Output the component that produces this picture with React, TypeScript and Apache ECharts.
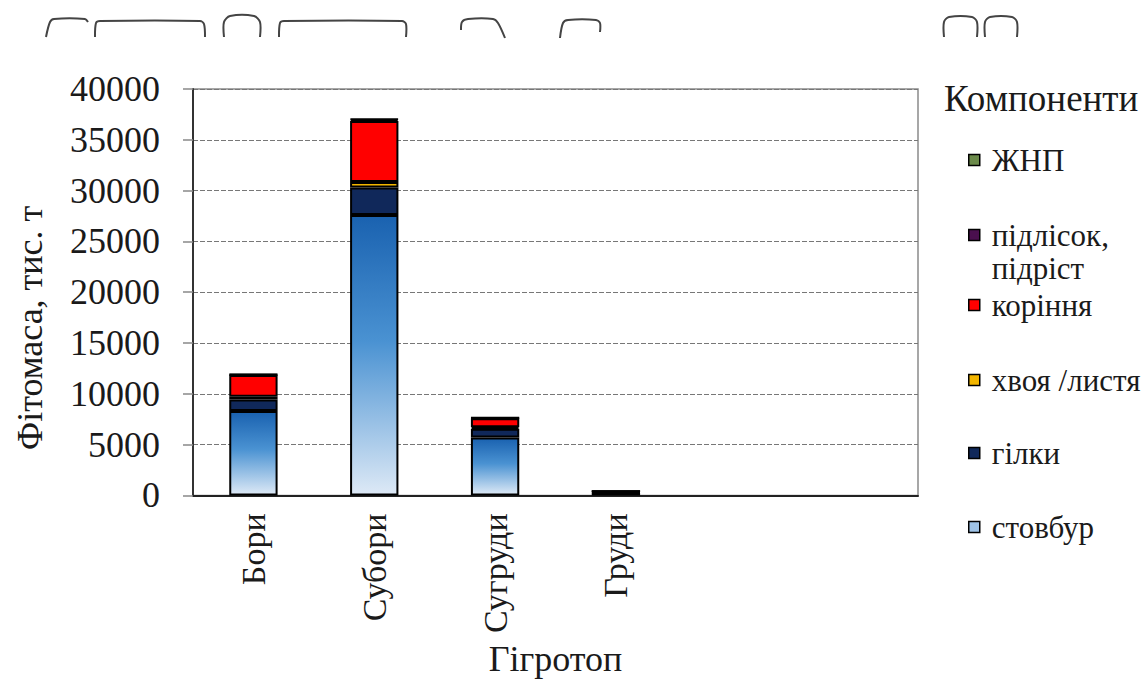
import React, { useEffect, useRef } from 'react';
import * as echarts from 'echarts';

const categories = ['Бори', 'Субори', 'Сугруди', 'Груди', '', ''];
const stovbur = [8300, 27600, 5700, 250, null, null];
const hilky = [1150, 2700, 850, 60, null, null];
const khvoya = [250, 550, 150, 20, null, null];
const korinnia = [2150, 6000, 900, 80, null, null];
const pidlisok = [50, 150, 30, 5, null, null];
const zhnp = [20, 60, 10, 2, null, null];
const yTicks = [0, 5000, 10000, 15000, 20000, 25000, 30000, 35000, 40000];

const FONT = 'Liberation Serif';
const TXT = '#1a1a1a';

const seriesDefs = [
  { name: 'стовбур', data: stovbur, legendColor: '#9fc3e7' },
  { name: 'гілки', data: hilky, legendColor: '#10285a' },
  { name: 'хвоя /листя', data: khvoya, legendColor: '#f3b600' },
  { name: 'коріння', data: korinnia, legendColor: '#ff0000' },
  { name: 'підлісок, підріст', data: pidlisok, legendColor: '#4a0f4e' },
  { name: 'ЖНП', data: zhnp, legendColor: '#6b8a4a' },
];

const legendCenters: Record<string, number> = {
  'ЖНП': 160,
  'підлісок, підріст': 235,
  'коріння': 305,
  'хвоя /листя': 380,
  'гілки': 453,
  'стовбур': 527,
};

const topMarks = [
  [[46, 37], [50, 22], [54, 19], [85, 19], [88, 22]],
  [[95, 37], [96, 23], [100, 21], [200, 21], [204, 24], [205, 37]],
  [[224, 37], [224, 22], [230, 16], [254, 16], [260, 22], [260, 37]],
  [[279, 37], [280, 23], [284, 21], [402, 21], [406, 24], [406, 37]],
  [[461, 30], [462, 22], [468, 19], [493, 19], [498, 23], [505, 38]],
  [[560, 38], [563, 23], [568, 20], [596, 20], [600, 23], [600, 32]],
  [[944, 37], [944, 22], [949, 17], [972, 17], [977, 22], [977, 37]],
  [[985, 37], [985, 22], [990, 17], [1012, 17], [1017, 22], [1017, 37]],
];

export default function App() {
  const ref = useRef<HTMLDivElement>(null);
  useEffect(() => {
    if (!ref.current) return;
    const chart = echarts.init(ref.current, null, { renderer: 'svg' });
    const stemGradient = new echarts.graphic.LinearGradient(0, 0, 0, 1, [
      { offset: 0, color: '#1a62b0' },
      { offset: 0.45, color: '#4a92d2' },
      { offset: 1, color: '#dde9f6' },
    ]);
    const series = seriesDefs.map((d) => ({
      name: d.name,
      type: 'bar',
      stack: 'total',
      barWidth: '40%',
      data: d.data,
      itemStyle: {
        color: d.name === 'стовбур' ? stemGradient : d.legendColor,
        borderColor: '#000',
        borderWidth: 2,
      },
      emphasis: { disabled: true },
    }));
    const legends = seriesDefs.map((d) => {
      const multi = d.name === 'підлісок, підріст';
      const lh = multi ? 33 : 31;
      const h = multi ? lh * 3 : lh;
      const ts = {
        fontFamily: FONT,
        fontSize: 31,
        color: TXT,
        lineHeight: lh,
        padding: [0, 0, 0, 7],
      };
      return {
        data: [{
          name: d.name,
          itemStyle: { color: d.legendColor, borderColor: '#000', borderWidth: 1.5 },
        }],
        orient: 'vertical',
        left: 968,
        top: legendCenters[d.name] - h / 2,
        padding: 0,
        icon: 'rect',
        itemWidth: 11,
        itemHeight: 11,
        selectedMode: false,
        formatter: multi ? () => '\nпідлісок,\nпідріст' : undefined,
        textStyle: ts,
      };
    });
    chart.setOption({
      animation: false,
      textStyle: { fontFamily: FONT },
      title: {
        text: 'Компоненти',
        left: 944,
        top: 80,
        padding: 0,
        textStyle: { fontFamily: FONT, fontSize: 37, fontWeight: 'normal', color: TXT },
      },
      legend: legends,
      grid: {
        left: 193,
        right: 229,
        top: 89,
        bottom: 185,
        show: true,
        borderColor: '#8a8a8a',
        borderWidth: 1.5,
        backgroundColor: 'transparent',
      },
      xAxis: {
        type: 'category',
        data: categories,
        axisLine: { lineStyle: { color: '#222', width: 2 } },
        axisTick: { show: false },
        axisLabel: { rotate: 90, margin: 18, fontFamily: FONT, fontSize: 34, color: TXT, interval: 0 },
        name: 'Гігротоп',
        nameLocation: 'middle',
        nameGap: 145,
        nameTextStyle: { fontFamily: FONT, fontSize: 36, color: TXT },
      },
      yAxis: {
        type: 'value',
        min: yTicks[0],
        max: yTicks[yTicks.length - 1],
        interval: yTicks[1] - yTicks[0],
        axisLine: { show: true, lineStyle: { color: '#333', width: 2 } },
        axisTick: { show: true, length: 10, lineStyle: { color: '#888', width: 1.5 } },
        axisLabel: {
          margin: 33,
          fontFamily: FONT,
          fontSize: 36,
          color: TXT,
          formatter: (v: number) => String(v),
        },
        splitLine: { show: true, lineStyle: { color: '#777', width: 1.2, type: [5, 2] } },
      },
      graphic: [
        {
          type: 'text',
          x: 30,
          y: 328,
          rotation: Math.PI / 2,
          style: {
            text: 'Фітомаса, тис. т',
            fontFamily: FONT,
            fontSize: 36,
            fill: TXT,
            align: 'center',
            verticalAlign: 'middle',
          },
        },
        ...topMarks.map((pts) => ({
          type: 'polyline',
          shape: { points: pts, smooth: 0.3 },
          style: { stroke: '#444', lineWidth: 2, fill: null },
        })),
      ],
      series,
    });
    return () => chart.dispose();
  }, []);
  return <div ref={ref} style={{ width: 1147, height: 682, position: 'absolute', left: 0, top: 0 }} />;
}
